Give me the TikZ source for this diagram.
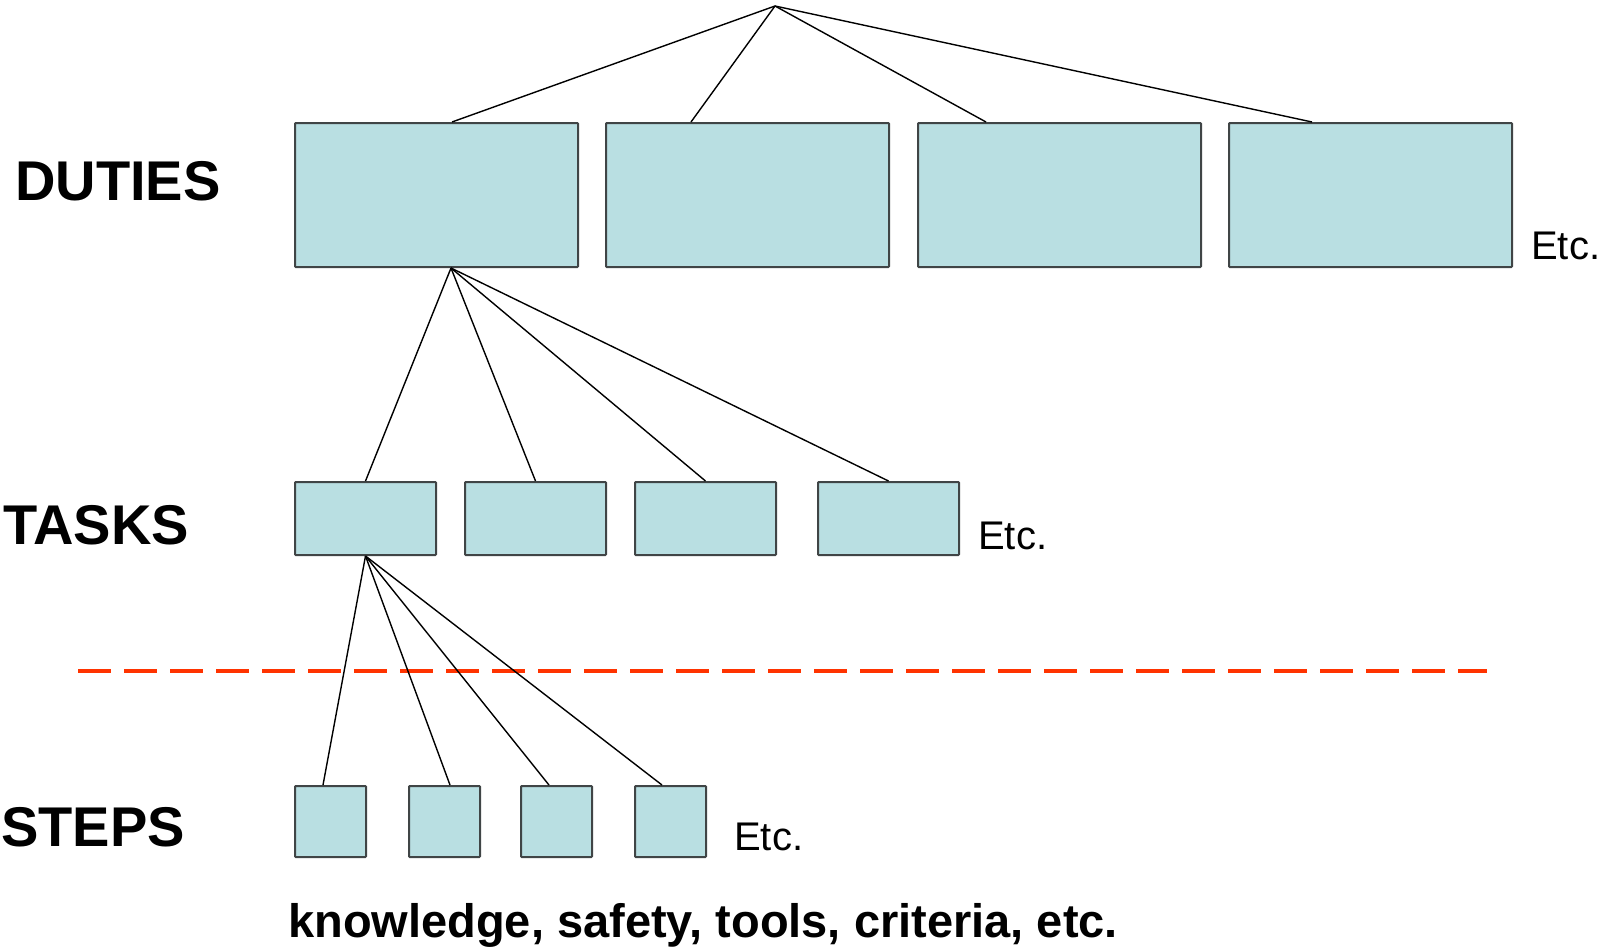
\documentclass[tikz,border=0pt]{standalone}
\usepackage{fontspec}
\setmainfont{Liberation Sans}
\begin{document}
\begin{tikzpicture}[x=1pt,y=-1pt,
  box/.style={draw=boxedge, line width=2pt, fill=boxfill, rounded corners=0.8pt,
              inner sep=0pt, anchor=north west},
  dutybox/.style={box, minimum width=283pt, minimum height=144pt},
  taskbox/.style={box, minimum width=141pt, minimum height=73pt},
  stepbox/.style={box, minimum width=71pt, minimum height=71pt},
  link/.style={draw=black, line width=1.4pt},
  level/.style={font=\fontsize{56}{60}\selectfont\bfseries, inner sep=0pt, anchor=base west},
  etc/.style={font=\fontsize{40}{44}\selectfont, inner sep=0pt, anchor=base west},
  divider/.style={draw=divred, line width=4pt, dash pattern=on 33pt off 13pt}
]
\definecolor{boxfill}{HTML}{B9DFE2}
\definecolor{boxedge}{HTML}{404546}
\definecolor{divred}{HTML}{FF3300}
\useasboundingbox (0,0) rectangle (1606,951);

% hierarchy root
\coordinate (root) at (775,6);

% duties
\node[dutybox] (d1) at (294,122) {};
\node[dutybox] (d2) at (605,122) {};
\node[dutybox] (d3) at (917,122) {};
\node[dutybox] (d4) at (1228,122) {};

% tasks of the first duty
\node[taskbox] (t1) at (294,481) {};
\node[taskbox] (t2) at (464,481) {};
\node[taskbox] (t3) at (634,481) {};
\node[taskbox] (t4) at (817,481) {};

% steps of the first task
\node[stepbox] (s1) at (294,785) {};
\node[stepbox] (s2) at (408,785) {};
\node[stepbox] (s3) at (520,785) {};
\node[stepbox] (s4) at (634,785) {};

% level labels
\node[level] (lduties) at (15,200) {DUTIES};
\node[level] (ltasks) at (3,544) {TASKS};
\node[level] (lsteps) at (1,846) {STEPS};

\node[etc] (e1) at (1531,259) {Etc.};
\node[etc] (e2) at (978,549) {Etc.};
\node[etc] (e3) at (734,850) {Etc.};

\node[font=\fontsize{47}{52}\selectfont\bfseries, inner sep=0pt, anchor=base west]
  (notes) at (288,937) {knowledge, safety, tools, criteria, etc.};

% dividing line between task and step levels
\coordinate (divL) at (78,671);
\coordinate (divR) at (1487,671);
\draw[divider] (divL) -- (divR);

% root to duties
\draw[link] (root) -- ([xshift=158pt]d1.north west);
\draw[link] (root) -- ([xshift=86pt]d2.north west);
\draw[link] (root) -- ([xshift=69pt]d3.north west);
\draw[link] (root) -- ([xshift=84pt]d4.north west);

% first duty to tasks
\coordinate (dfan) at ([xshift=157pt]d1.south west);
\draw[link] (dfan) -- (t1.north);
\draw[link] (dfan) -- (t2.north);
\draw[link] (dfan) -- (t3.north);
\draw[link] (dfan) -- (t4.north);

% first task to steps
\draw[link] (t1.south) -- ([xshift=29pt]s1.north west);
\draw[link] (t1.south) -- ([xshift=42pt]s2.north west);
\draw[link] (t1.south) -- ([xshift=29pt]s3.north west);
\draw[link] (t1.south) -- ([xshift=28pt]s4.north west);
\end{tikzpicture}
\end{document}
